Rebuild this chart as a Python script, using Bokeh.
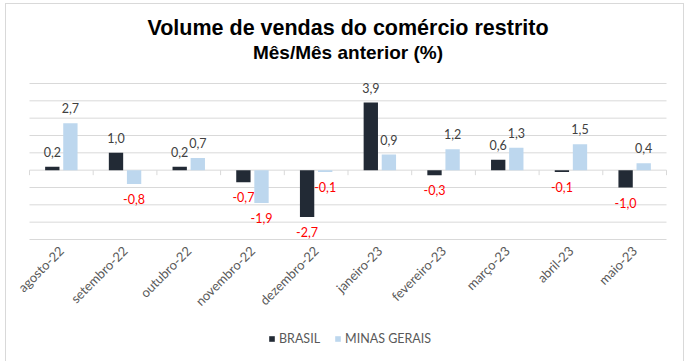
import math
from bokeh.plotting import figure
from bokeh.models import ColumnDataSource, Legend, LegendItem, Range1d, Label
from bokeh.embed import file_html
from bokeh.resources import INLINE
from bokeh.core.properties import value

categories = ["agosto-22", "setembro-22", "outubro-22", "novembro-22", "dezembro-22",
              "janeiro-23", "fevereiro-23", "março-23", "abril-23", "maio-23"]
brasil = [0.2, 1.0, 0.2, -0.7, -2.7, 3.9, -0.3, 0.6, -0.1, -1.0]
minas = [2.7, -0.8, 0.7, -1.9, -0.1, 0.9, 1.2, 1.3, 1.5, 0.4]
y_ticks = [-4, -3, -2, -1, 0, 1, 2, 3, 4, 5]

title_text = "Volume de vendas do comércio restrito"
subtitle_text = "Mês/Mês anterior (%)"

BR_COLOR = "#222a35"
MG_COLOR = "#bdd7ee"
GRID = "#d9d9d9"
FONT = "Lato"

# layout (pixels)
W, H = 679, 358
PLOT_L, PLOT_W = 24, 637   # value band horizontal extent inside canvas
PLOT_TOP = 80              # top gridline, px from canvas top
PLOT_H = 156               # height of the value band (y_ticks span)
PX = PLOT_H / (max(y_ticks) - min(y_ticks))
ymax = max(y_ticks) + PLOT_TOP / PX
ymin = ymax - H / PX

n = len(categories)
CAT_PX = PLOT_W / n
xmin = -PLOT_L / CAT_PX
xmax = n + (W - PLOT_L - PLOT_W) / CAT_PX

centers = [i + 0.5 for i in range(n)]
off = 0.142
bw = 0.225


def fmt(v):
    return f"{v:.1f}".replace(".", ",")


def make_src(vals, shift):
    return ColumnDataSource(dict(
        x=[c + shift for c in centers],
        top=vals,
        label=[fmt(v) for v in vals],
        yoff=[-15 if v >= 0 else 15 for v in vals],
        color=["#404040" if v >= 0 else "#ff0000" for v in vals],
    ))


src_br = make_src(brasil, -off)
src_mg = make_src(minas, off)

p = figure(frame_width=W, frame_height=H, x_range=Range1d(xmin, xmax), y_range=Range1d(ymin, ymax),
           output_backend="svg", toolbar_location=None, title=None,
           min_border_left=0, min_border_right=0, min_border_top=0, min_border_bottom=0)
p.styles = {"margin-left": "5px", "margin-top": "3px",
            "box-shadow": "inset 1px 1px 0 #d9d9d9, inset -1px 0 0 #d9d9d9"}

p.outline_line_color = None
p.background_fill_color = None
p.border_fill_color = None

p.xaxis.visible = False
p.yaxis.visible = False
p.xgrid.visible = False
p.ygrid.visible = False

# horizontal gridlines across the category span
p.segment(x0=[0] * len(y_ticks), y0=y_ticks, x1=[n] * len(y_ticks), y1=y_ticks,
          line_color=GRID, line_width=1)

# category boundary tick marks on the zero line
bounds = list(range(n + 1))
p.segment(x0=bounds, y0=[0] * len(bounds), x1=bounds, y1=[-5 / PX] * len(bounds),
          line_color=GRID, line_width=1)

r_br = p.vbar(x="x", top="top", bottom=0, width=bw, source=src_br, fill_color=BR_COLOR, line_color=None)
r_mg = p.vbar(x="x", top="top", bottom=0, width=bw, source=src_mg, fill_color=MG_COLOR, line_color=None)

for s in (src_br, src_mg):
    p.text(x="x", y="top", text="label", source=s, y_offset="yoff", text_color="color",
           text_align="center", text_baseline="middle", text_font=value(FONT), text_font_size="12.5px")

# category labels (rotated) under the value band
cat_src = ColumnDataSource(dict(x=centers, y=[min(y_ticks)] * n, text=categories))
p.text(x="x", y="y", text="text", source=cat_src, angle=math.pi / 4, x_offset=0, y_offset=9,
       text_align="right", text_baseline="middle", text_font=value(FONT), text_font_size="13px",
       text_color="#595959")

# titles
p.add_layout(Label(x=n / 2, y=ymax - 24.5 / PX, text=title_text, text_align="center",
                   text_baseline="middle", text_font="Liberation Sans", text_font_size="21.5px",
                   text_font_style="bold", text_color="black"))
p.add_layout(Label(x=n / 2, y=ymax - 49 / PX, text=subtitle_text, text_align="center",
                   text_baseline="middle", text_font="Liberation Sans", text_font_size="19px",
                   text_font_style="bold", text_color="black"))

legend = Legend(items=[LegendItem(label="BRASIL", renderers=[r_br]),
                       LegendItem(label="MINAS GERAIS", renderers=[r_mg])],
                orientation="horizontal", location=(263, 15),
                glyph_width=7, glyph_height=7, label_standoff=4, spacing=14,
                label_height=7, label_text_baseline="middle",
                label_text_font=FONT, label_text_font_size="12.5px", label_text_color="#595959",
                border_line_color=None, background_fill_alpha=0, margin=0, padding=0)
p.add_layout(legend, "center")

open("out.html", "w").write(file_html(p, INLINE))
